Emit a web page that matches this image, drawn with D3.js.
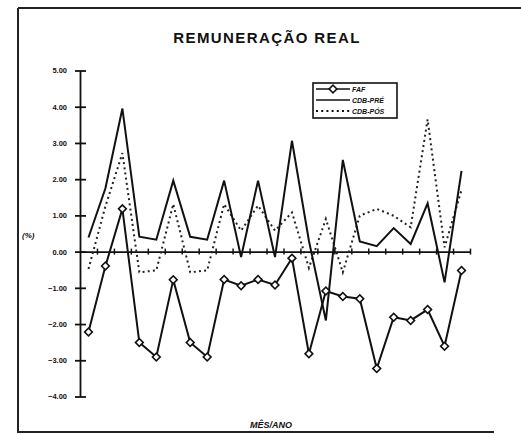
<!DOCTYPE html>
<html>
<head>
<meta charset="utf-8">
<script src="https://cdn.jsdelivr.net/npm/d3@7"></script>
<style>
  body { margin: 0; background: #fff; }
  text { font-family: "Liberation Sans", Arial, sans-serif; fill: #111; }
</style>
</head>
<body>
<div id="chart"></div>
<script>
var svgWidth = 521;
var svgHeight = 435;

// months (no labels shown on the axis)
var periods = [1, 2, 3, 4, 5, 6, 7, 8, 9, 10, 11, 12, 13, 14, 15, 16, 17, 18, 19, 20, 21, 22, 23];

var faf = [-2.22, -0.40, 1.18, -2.51, -2.91, -0.78, -2.51, -2.91, -0.77, -0.94, -0.77, -0.92,
  -0.18, -2.82, -1.09, -1.24, -1.30, -3.23, -1.81, -1.90, -1.60, -2.61, -0.52];
var cdbPre = [0.39, 1.75, 3.95, 0.41, 0.33, 1.96, 0.41, 0.33, 1.96, -0.15, 1.96, -0.15,
  3.06, 0.30, -1.90, 2.53, 0.28, 0.15, 0.65, 0.21, 1.33, -0.85, 2.23];
var cdbPos = [-0.48, 1.25, 2.72, -0.57, -0.52, 1.31, -0.57, -0.52, 1.31, 0.58, 1.27, 0.58,
  1.08, -0.45, 0.90, -0.57, 0.99, 1.18, 0.99, 0.67, 3.65, 0.12, 1.70];

var yTicks = [-4, -3, -2, -1, 0, 1, 2, 3, 4, 5];

var svg = d3.select('#chart').append('svg')
  .attr('width', svgWidth)
  .attr('height', svgHeight);

// outer frame
svg.append('path')
  .attr('d', 'M18,8 H521 M18,8 V432 H494')
  .attr('fill', 'none')
  .attr('stroke', '#222')
  .attr('stroke-width', 2);

// title
svg.append('text')
  .attr('x', 267)
  .attr('y', 43)
  .attr('text-anchor', 'middle')
  .style('font-size', '15px')
  .style('font-weight', 'bold')
  .style('letter-spacing', '1.4px')
  .text('REMUNERAÇÃO REAL');

// scales
var x = d3.scaleLinear().domain([0, periods.length]).range([80, 470]);
var y = d3.scaleLinear().domain([-4, 5]).range([396.5, 70.5]);

// y axis
var yAxis = svg.append('g')
  .attr('transform', 'translate(80,0)')
  .call(d3.axisLeft(y).tickValues(yTicks).tickFormat(d3.format('.2f')).tickSizeOuter(0).tickPadding(13));
yAxis.select('.domain').attr('stroke-width', 1.8).attr('stroke', '#111');
yAxis.selectAll('.tick line').attr('x1', -5).attr('x2', 6).attr('stroke-width', 1.8).attr('stroke', '#111');
yAxis.selectAll('.tick text')
  .style('font-size', '7.5px')
  .style('font-weight', 'bold')
  .attr('text-anchor', 'end')
  .attr('x', -13);

// x axis on zero line, ticks between months
var xAxis = svg.append('g')
  .attr('transform', 'translate(0,' + y(0) + ')')
  .call(d3.axisBottom(x).tickValues(periods).tickFormat('').tickSizeOuter(0));
xAxis.select('.domain').attr('stroke-width', 1.8).attr('stroke', '#111');
xAxis.selectAll('.tick line').attr('y1', -3).attr('y2', 3).attr('stroke-width', 1.5).attr('stroke', '#111');

// axis titles
svg.append('text')
  .attr('x', 22)
  .attr('y', 238)
  .style('font-size', '8px')
  .style('font-weight', 'bold')
  .style('font-style', 'italic')
  .text('(%)');

svg.append('text')
  .attr('x', 271)
  .attr('y', 428)
  .attr('text-anchor', 'middle')
  .style('font-size', '9px')
  .style('font-weight', 'bold')
  .style('font-style', 'italic')
  .text('MÊS/ANO');

var line = d3.line()
  .x(function (d, i) { return x(i + 0.5); })
  .y(function (d) { return y(d); });

// CDB-PÓS dotted
svg.append('path')
  .datum(cdbPos)
  .attr('d', line)
  .attr('fill', 'none')
  .attr('stroke', '#222')
  .attr('stroke-width', 2)
  .attr('stroke-dasharray', '2,3.2');

// CDB-PRÉ solid
svg.append('path')
  .datum(cdbPre)
  .attr('d', line)
  .attr('fill', 'none')
  .attr('stroke', '#111')
  .attr('stroke-width', 2);

// FAF with markers
svg.append('path')
  .datum(faf)
  .attr('d', line)
  .attr('fill', 'none')
  .attr('stroke', '#111')
  .attr('stroke-width', 2);

var diamond = d3.symbol().type(d3.symbolSquare).size(30);
svg.selectAll('.faf-marker')
  .data(faf)
  .enter()
  .append('path')
  .attr('class', 'faf-marker')
  .attr('d', diamond)
  .attr('transform', function (d, i) { return 'translate(' + x(i + 0.5) + ',' + y(d) + ') rotate(45)'; })
  .attr('fill', '#fff')
  .attr('stroke', '#111')
  .attr('stroke-width', 1.6);

// legend
var legend = svg.append('g');
legend.append('rect')
  .attr('x', 313).attr('y', 83)
  .attr('width', 84).attr('height', 35)
  .attr('fill', '#fff')
  .attr('stroke', '#111')
  .attr('stroke-width', 1.6);

var legendItems = [
  { name: 'FAF', dash: null, marker: true, y: 89 },
  { name: 'CDB-PRÉ', dash: null, marker: false, y: 100 },
  { name: 'CDB-PÓS', dash: '2,3.2', marker: false, y: 111 }
];

legendItems.forEach(function (d) {
  legend.append('line')
    .attr('x1', 316).attr('x2', 350)
    .attr('y1', d.y).attr('y2', d.y)
    .attr('stroke', '#111')
    .attr('stroke-width', d.dash ? 2 : 1.6)
    .attr('stroke-dasharray', d.dash);
  if (d.marker) {
    legend.append('path')
      .attr('d', diamond)
      .attr('transform', 'translate(333,' + d.y + ') rotate(45)')
      .attr('fill', '#fff')
      .attr('stroke', '#111')
      .attr('stroke-width', 1.6);
  }
  legend.append('text')
    .attr('x', 352)
    .attr('y', d.y + 2.5)
    .style('font-size', '7px')
    .style('font-weight', 'bold')
    .style('font-style', 'italic')
    .text(d.name);
});
</script>
</body>
</html>
